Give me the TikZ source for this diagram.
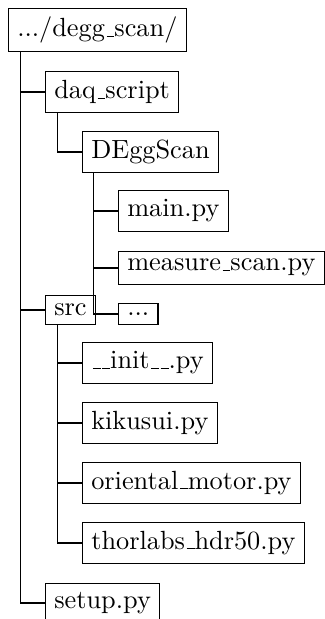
\documentclass[tikz,border=0pt]{standalone}
% classic rule-style underscore
\newcommand\us{\leavevmode\kern.06em\vbox{\hrule width.3em}}
\begin{document}
\begin{tikzpicture}[x=0.3802pt,y=-0.3802pt,
  entry/.style={draw,anchor=west,inner sep=3.33pt,line width=0.4pt},
  branch/.style={draw,line width=0.4pt}]
\useasboundingbox (0,0) rectangle (325,619);
% directory entries
\node[entry] (root) at (8,30) {.../degg\us scan/};
\node[entry] (daq) at (45,92) {daq\us script};
\node[entry] (degg) at (82,152) {DEggScan};
\node[entry] (main) at (118,211) {main.py};
\node[entry,text height=3.9pt,text depth=1.94pt] (measure) at (118,268) {measure\us scan.py};
\node[entry] (src) at (45,310) {src};
\node[entry] (more) at (118,314) {...};
\node[entry] (init) at (82,363) {\us\us init\us\us.py};
\node[entry] (kiku) at (82,423) {kikusui.py};
\node[entry] (orient) at (82,483) {oriental\us motor.py};
\node[entry] (thor) at (82,543) {thorlabs\us hdr50.py};
\node[entry] (setup) at (45,603) {setup.py};
% tree branches
\path[branch] ([xshift=4.6pt]root.south west) |- (daq.west);
\path[branch] ([xshift=4.6pt]root.south west) |- (src.west);
\path[branch] ([xshift=4.6pt]root.south west) |- (setup.west);
\path[branch] ([xshift=4.9pt]daq.south west) |- (degg.west);
\path[branch] ([xshift=4.3pt]degg.south west) |- (main.west);
\path[branch] ([xshift=4.3pt]degg.south west) |- (measure.west);
\path[branch] ([xshift=4.3pt]degg.south west) |- (more.west);
\path[branch] ([xshift=4.6pt]src.south west) |- (init.west);
\path[branch] ([xshift=4.6pt]src.south west) |- (kiku.west);
\path[branch] ([xshift=4.6pt]src.south west) |- (orient.west);
\path[branch] ([xshift=4.6pt]src.south west) |- (thor.west);
\end{tikzpicture}
\end{document}
